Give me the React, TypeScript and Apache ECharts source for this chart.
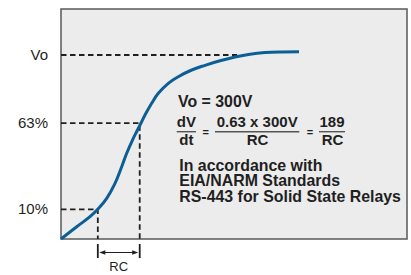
import { useEffect, useRef } from 'react';
import * as echarts from 'echarts';

// Curve (S-shaped charging curve), x in arbitrary time units, y in % of Vo (as drawn)
const curveX = [0, 4.54, 8.38, 10.61, 13.21, 15.61, 17.54, 18.99, 20.66, 22.11, 23.27, 24.28, 26.21, 28.12, 31.01, 33.9, 37.77, 41.62, 45.95, 50.29, 54.62, 58.96, 63.87, 68.79];
const curveY = [0, 6.68, 12.12, 16.14, 22.12, 30.27, 39.29, 46.58, 53.8, 59.24, 63.59, 67.39, 73.75, 79.18, 84.62, 88.21, 91.85, 94.4, 96.85, 98.91, 100.43, 101.3, 101.68, 101.79];

// Reference levels
const levelLabels = ['Vo', '63%', '10%'];
const levelValues = [100, 63, 16.1];
const levelEndX = [50.9, 22.75, 10.64];
const levelDrop = [false, true, true];

// RC dimension
const rcLabel = 'RC';
const rcRange = [10.64, 22.75];

// Annotation texts
const voText = 'Vo = 300V';
const fracLeft = ['dV', 'dt'];
const fracMid = ['0.63 x 300V', 'RC'];
const fracRight = ['189', 'RC'];
const noteLines = ['In accordance with', 'EIA/NARM Standards', 'RS-443 for Solid State Relays'];

const FONT = '"Liberation Sans", Arial, Helvetica, sans-serif';
const INK = '#1f1f1f';
const BLUE = '#0c5f96';

function txt(text: string, x: number, y: number, size: number, weight: string, align: string) {
  return {
    type: 'text',
    x,
    y,
    silent: true,
    style: {
      text,
      fontSize: size,
      fontWeight: weight,
      fontFamily: FONT,
      fill: INK,
      align,
      verticalAlign: 'middle',
      textAlign: align,
      textVerticalAlign: 'middle',
    },
  };
}

function bar(x1: number, x2: number, y: number) {
  return {
    type: 'line',
    silent: true,
    shape: { x1, y1: y, x2, y2: y },
    style: { stroke: '#555', lineWidth: 1.4 },
  };
}

export default function App() {
  const ref = useRef<HTMLDivElement>(null);

  useEffect(() => {
    if (!ref.current) return;
    const chart = echarts.init(ref.current, null, { renderer: 'svg' });

    const dashed = { color: INK, width: 1.8, type: [5.5, 3.5] as any };

    const levelSeries = levelValues.map((v, i) => {
      const pts: number[][] = [[0, v], [levelEndX[i], v]];
      if (levelDrop[i]) pts.push([levelEndX[i], 0]);
      return {
        type: 'line',
        data: pts,
        symbol: 'none',
        lineStyle: dashed,
        silent: true,
        z: 2,
      };
    });

    const option: any = {
      animation: false,
      grid: {
        left: 61,
        top: 9,
        width: 346,
        height: 230,
        show: true,
        backgroundColor: '#ececec',
        borderColor: '#585858',
        borderWidth: 1.5,
      },
      xAxis: { type: 'value', min: 0, max: 100, show: false },
      yAxis: { type: 'value', min: 0, max: 125, show: false },
      series: [
        ...levelSeries,
        {
          type: 'line',
          data: curveX.map((x, i) => [x, curveY[i]]),
          smooth: 0.4,
          symbol: 'none',
          lineStyle: { color: BLUE, width: 3 },
          silent: true,
          z: 3,
        },
        {
          type: 'custom',
          silent: true,
          z: 4,
          data: levelValues.map((v, i) => [v, i]),
          renderItem: (params: any, api: any) => {
            const v = api.value(0);
            const i = api.value(1);
            const p = api.coord([0, v]);
            return {
              type: 'text',
              x: p[0] - 13,
              y: p[1] - 1,
              style: {
                text: levelLabels[i],
                fontSize: 15,
                fontFamily: FONT,
                fill: INK,
                align: 'right',
                verticalAlign: 'middle',
              },
            };
          },
        },
        {
          type: 'custom',
          silent: true,
          z: 4,
          clip: false,
          data: [[rcRange[0], rcRange[1]]],
          renderItem: (params: any, api: any) => {
            const a = api.coord([api.value(0), 0]);
            const b = api.coord([api.value(1), 0]);
            const base = a[1];
            const t1 = base + 5;
            const t2 = base + 19;
            const ay = base + 13.5;
            const ah = 6;
            const aw = 2.3;
            return {
              type: 'group',
              children: [
                { type: 'line', shape: { x1: a[0], y1: t1, x2: a[0], y2: t2 }, style: { stroke: INK, lineWidth: 1.8 } },
                { type: 'line', shape: { x1: b[0], y1: t1, x2: b[0], y2: t2 }, style: { stroke: INK, lineWidth: 1.8 } },
                { type: 'line', shape: { x1: a[0] + 3, y1: ay, x2: b[0] - 3, y2: ay }, style: { stroke: INK, lineWidth: 1.2 } },
                { type: 'polygon', shape: { points: [[a[0] + 1.5, ay], [a[0] + 1.5 + ah, ay - aw], [a[0] + 1.5 + ah, ay + aw]] }, style: { fill: INK } },
                { type: 'polygon', shape: { points: [[b[0] - 1.5, ay], [b[0] - 1.5 - ah, ay - aw], [b[0] - 1.5 - ah, ay + aw]] }, style: { fill: INK } },
                {
                  type: 'text',
                  x: (a[0] + b[0]) / 2,
                  y: ay + 14,
                  style: { text: rcLabel, fontSize: 13, fontFamily: FONT, fill: INK, align: 'center', verticalAlign: 'middle' },
                },
              ],
            };
          },
        },
      ],
      graphic: [
        txt(voText, 178, 101.3, 15.9, 'bold', 'left'),
        txt(fracLeft[0], 186.3, 121.5, 15, 'bold', 'center'),
        bar(176.7, 196, 131.7),
        txt(fracLeft[1], 186.3, 139, 15, 'bold', 'center'),
        txt('=', 205.7, 132, 11, 'bold', 'center'),
        txt(fracMid[0], 257.2, 121.5, 15, 'bold', 'center'),
        bar(215, 299.3, 131.7),
        txt(fracMid[1], 257.5, 139, 15, 'bold', 'center'),
        txt('=', 310, 132, 11, 'bold', 'center'),
        txt(fracRight[0], 332, 121.5, 15, 'bold', 'center'),
        bar(319, 345, 131.7),
        txt(fracRight[1], 332.5, 139, 15, 'bold', 'center'),
        ...noteLines.map((t, i) => txt(t, 179.3, 165.3 + i * 15.6, 15.9, 'bold', 'left')),
      ],
    };

    chart.setOption(option);
    return () => chart.dispose();
  }, []);

  return <div ref={ref} style={{ position: 'absolute', left: 0, top: 0, width: 411, height: 275 }} />;
}
